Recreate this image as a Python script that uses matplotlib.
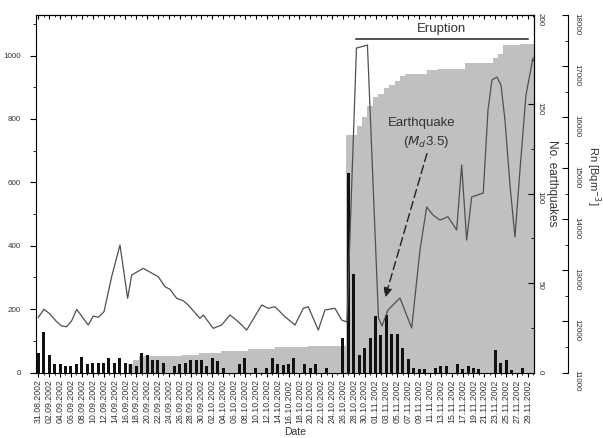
import numpy as np
import pandas as pd
import matplotlib
matplotlib.use("Agg")
import matplotlib.pyplot as plt
from matplotlib.ticker import MultipleLocator

plt.rcParams['font.family'] = ['Liberation Sans', 'DejaVu Sans']

# --- data ---
dates = pd.date_range('2002-08-31', '2002-11-29', freq='D')
days = np.arange(len(dates))
date_labels = [d.strftime('%d.%m.%Y') for d in dates[::2]]

# daily number of earthquakes (bars, left axis)
daily_quakes = [61, 129, 54, 27, 27, 22, 22, 27, 48, 27,
                30, 30, 30, 45, 30, 45, 30, 27, 22, 61,
                54, 40, 38, 30, 0, 19, 26, 30, 38, 38,
                38, 19, 45, 35, 14, 0, 0, 26, 45, 0,
                14, 0, 14, 45, 26, 24, 26, 47, 0, 26,
                14, 26, 0, 14, 0, 0, 110, 630, 310, 54,
                77, 110, 178, 119, 182, 122, 122, 77, 42, 14,
                10, 10, 0, 14, 22, 22, 0, 28, 10, 21,
                14, 10, 0, 0, 71, 29, 38, 8, 0, 14, 0]

# cumulative number of earthquakes (grey area, "No. earthquakes" axis)
cum_quakes = [0, 0, 0, 0, 0, 0, 0, 0, 0, 0,
              0, 0, 0, 0, 0, 0, 0, 5, 7, 9,
              9, 9, 9, 9, 9, 9, 9, 10, 10, 10,
              11, 11, 11, 11, 12, 12, 12, 12, 12, 13,
              13, 13, 13, 13, 14, 14, 14, 14, 14, 14,
              15, 15, 15, 15, 15, 15, 15, 133, 133, 138,
              143, 149, 154, 156, 159, 161, 163, 166, 167, 167,
              167, 167, 169, 169, 170, 170, 170, 170, 170, 173,
              173, 173, 173, 173, 176, 178, 183, 183, 183, 184, 184]

# radon concentration (line, Rn axis)
rn_day = [0.0, 1.05, 2.15, 3.38, 4.30, 5.22, 6.14, 7.06, 8.27, 9.19,
          10.11, 11.03, 12.08, 13.49, 15.02, 16.43, 17.17, 19.30, 21.14, 22.06,
          23.29, 24.21, 25.44, 26.65, 27.57, 29.72, 30.33, 32.17, 33.71, 35.24,
          36.76, 38.31, 41.07, 42.28, 43.51, 45.35, 47.19, 48.71, 49.63, 51.47,
          52.70, 54.54, 55.77, 56.75, 58.49, 60.51, 62.54, 63.18, 64.28, 66.49,
          68.64, 70.17, 71.40, 72.56, 73.84, 75.31, 76.91, 77.83, 78.75, 79.67,
          81.80, 82.67, 83.40, 84.32, 85.06, 85.79, 86.71, 87.63, 88.55, 89.65,
          90.94]
rn_conc = [12080, 12240, 12145, 11995, 11910, 11897, 12014, 12237, 12061, 11930,
           12106, 12081, 12190, 12876, 13496, 12453, 12909, 13040, 12929, 12876,
           12680, 12629, 12453, 12406, 12322, 12061, 12126, 11865, 11930, 12126,
           11995, 11832, 12322, 12257, 12288, 12093, 11930, 12257, 12288, 11832,
           12224, 12257, 12028, 11989, 17354, 17412, 12067, 11910, 12224, 12459,
           11871, 13399, 14240, 14084, 13986, 14051, 13790, 15063, 13594, 14436,
           14515, 16140, 16727, 16786, 16629, 15944, 14671, 13653, 14965, 16434,
           17158]

eruption_start, eruption_end = 58.4, 90.0
x_min, x_max = -0.33, 91.12

# --- figure ---
fig = plt.figure(figsize=(6.03, 4.38), dpi=100)
ax = fig.add_axes([0.0605, 0.1495, 0.825, 0.8162])
ax_eq = ax.twinx()
ax_rn = ax.twinx()

ax_eq.set_zorder(1)
ax.set_zorder(2)
ax.patch.set_visible(False)
ax_rn.set_zorder(3)

# grey cumulative area
ax_eq.fill_between(np.r_[days, x_max], np.r_[cum_quakes, cum_quakes[-1]],
                   step='mid', color='#c0c0c0', lw=0)
ax_eq.set_ylim(0, 200)

# bars
ax.bar(days, daily_quakes, width=0.55, color='#111111', lw=0)
ax.set_ylim(0, 1128)
ax.set_xlim(x_min, x_max)

# radon line
ax_rn.plot(rn_day, rn_conc, color='#505050', lw=0.9)
ax_rn.set_ylim(11000, 18000)
ax_rn.set_xlim(x_min, x_max)
ax_eq.set_xlim(x_min, x_max)

# x axis
ax.set_xticks(days[::2])
ax.set_xticklabels(date_labels, rotation=90, fontsize=6.3, color='#333333')
ax.xaxis.set_minor_locator(MultipleLocator(1))
ax.tick_params(axis='x', which='major', direction='out', length=3, pad=2, width=0.8)
ax.tick_params(axis='x', which='minor', direction='out', length=1.5, width=0.6)
top = ax.secondary_xaxis('top')
top.set_xticks(days[::2])
top.xaxis.set_minor_locator(MultipleLocator(1))
top.tick_params(which='major', direction='in', length=3, labeltop=False, width=0.8)
top.tick_params(which='minor', direction='in', length=1.5, width=0.6)
ax.set_xlabel('Date', fontsize=7.5, color='#333333', va='center')
ax.xaxis.set_label_coords(0.52, -0.165)

# left axis
ax.yaxis.set_major_locator(MultipleLocator(200))
ax.yaxis.set_minor_locator(MultipleLocator(100))
ax.tick_params(axis='y', which='major', direction='out', length=4, pad=7,
               labelsize=5.8, labelcolor='#333333', width=0.8)
ax.tick_params(axis='y', which='minor', direction='out', length=2.5, width=0.6)

# No. earthquakes axis
for s in ['left', 'top', 'bottom']:
    ax_eq.spines[s].set_visible(False)
ax_eq.yaxis.set_major_locator(MultipleLocator(50))
ax_eq.yaxis.set_minor_locator(MultipleLocator(25))
ax_eq.tick_params(axis='y', which='major', direction='in', length=4, pad=2,
                  labelsize=5.8, labelcolor='#333333', labelrotation=-90, width=0.8)
ax_eq.tick_params(axis='y', which='minor', direction='in', length=2.5, width=0.6)
ax_eq.set_ylabel('No. earthquakes', fontsize=8.5, rotation=-90, color='#333333',
                 va='center', ha='center')
ax_eq.yaxis.set_label_coords(1.036, 0.53)

# Rn axis
for s in ['left', 'top', 'bottom']:
    ax_rn.spines[s].set_visible(False)
ax_rn.spines['right'].set_position(('axes', 1.068))
ax_rn.yaxis.set_major_locator(MultipleLocator(1000))
ax_rn.yaxis.set_minor_locator(MultipleLocator(500))
ax_rn.tick_params(axis='y', which='major', direction='in', length=4, pad=4,
                  labelsize=5.8, labelcolor='#333333', labelrotation=-90, width=0.8)
ax_rn.tick_params(axis='y', which='minor', direction='in', length=2.5, width=0.6)
ax_rn.set_ylabel('Rn [Bqm$^{-3}$]', fontsize=8, rotation=-90, color='#333333',
                 va='center', ha='center')
ax_rn.yaxis.set_label_coords(1.119, 0.55)

# eruption marker
xt = ax.get_xaxis_transform()
ax.plot([eruption_start, eruption_end], [0.932, 0.932], transform=xt,
        color='#222222', lw=1.1, clip_on=False)
ax.text(74.2, 0.961, 'Eruption', transform=xt, ha='center', va='center',
        fontsize=9.5, color='#333333')

# earthquake annotation
ax.text(70.5, 0.698, 'Earthquake', transform=xt, ha='center', va='center',
        fontsize=9.5, color='#333333')
ax.text(71.3, 0.645, r'($M_d$3.5)', transform=xt, ha='center', va='center',
        fontsize=9.5, color='#333333')
ax.annotate('', xy=(63.74, 235), xytext=(71.45, 691),
            arrowprops=dict(arrowstyle='-|>,head_length=0.6,head_width=0.25',
                            linestyle=(0, (6, 3)), color='#222222', lw=1,
                            shrinkA=0, shrinkB=0))

fig.savefig('out.png', dpi=100)
